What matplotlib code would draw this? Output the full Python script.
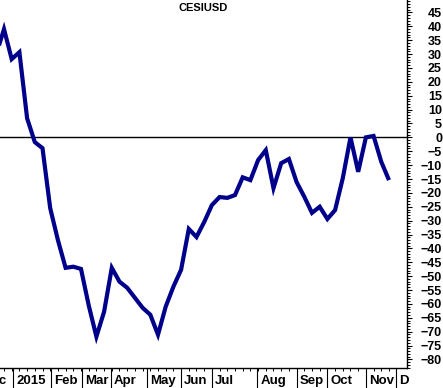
import matplotlib
matplotlib.use("Agg")
import matplotlib.pyplot as plt
from matplotlib.ticker import MultipleLocator, FixedLocator
from matplotlib.transforms import blended_transform_factory, offset_copy

plt.rcParams["font.family"] = ["Liberation Sans", "DejaVu Sans"]

# weekly CESIUSD readings (week index 0 = late Dec 2014)
weeks = list(range(52))
cesi = [30.0, 39.0, 28.2, 30.7, 6.9, -1.7, -3.9, -25.5, -37.0, -47.0,
        -46.6, -47.4, -60.5, -71.8, -62.8, -47.0, -52.0, -54.2, -57.8, -61.4,
        -63.9, -71.1, -61.0, -53.8, -47.7, -33.0, -35.9, -30.5, -24.4, -21.5,
        -21.8, -20.8, -14.4, -15.4, -8.2, -4.6, -18.3, -9.3, -7.8, -16.1,
        -21.4, -27.2, -25.0, -29.4, -26.2, -14.7, 0.0, -12.4, 0.0, 0.5,
        -8.8, -15.4]

month_pos = [-2.2, 2.17, 7.1, 11.1, 14.9, 19.6, 24.0, 28.0, 33.9, 39.05,
             42.95, 48.0, 51.9]
month_lbl = ["Dec", "2015", "Feb", "Mar", "Apr", "May", "Jun", "Jul", "Aug",
             "Sep", "Oct", "Nov", "D"]

y_ticks = list(range(-80, 50, 5))

NAVY = "#00008B"

fig = plt.figure(figsize=(4.43, 3.88), dpi=100)
ax = fig.add_axes([0, 20 / 388, 407 / 443, 368 / 388])

ax.plot(weeks, cesi, color=NAVY, lw=3.0, solid_joinstyle="miter",
        solid_capstyle="butt", zorder=3)
ax.axhline(0, color="black", lw=1.0, zorder=2)

ax.set_xlim(0.48, 53.34)
ax.set_ylim(-83.1, 49.5)

for s in ("left", "top"):
    ax.spines[s].set_visible(False)
for s in ("right", "bottom"):
    ax.spines[s].set_linewidth(1.0)

# y axis on the right
ax.yaxis.tick_right()
ax.yaxis.set_major_locator(FixedLocator(y_ticks))
ax.yaxis.set_minor_locator(MultipleLocator(1))
ax.tick_params(axis="y", which="major", length=3.6, width=0.8, direction="out",
               pad=21.6, labelsize=9)
ax.tick_params(axis="y", which="minor", length=1.9, width=0.7, direction="out")
for lab in ax.get_yticklabels():
    lab.set_horizontalalignment("right")
    lab.set_fontweight("bold")

# x axis: months as long separators, weeks as short ticks
ax.xaxis.set_major_locator(FixedLocator(month_pos))
ax.xaxis.set_minor_locator(FixedLocator(weeks))
ax.set_xticklabels([])
ax.tick_params(axis="x", which="major", length=15, width=0.8, direction="out")
ax.tick_params(axis="x", which="minor", length=2.5, width=0.7, direction="out")

trans = offset_copy(blended_transform_factory(ax.transData, ax.transAxes),
                    fig=fig, x=3, y=-13, units="dots")
for pos, lbl in zip(month_pos, month_lbl):
    ax.text(pos, 0, lbl, transform=trans, ha="left", va="center",
            fontsize=9.5, fontweight="bold", clip_on=False)

fig.text(203 / 443, 1 - 8 / 388, "CESIUSD", ha="center", va="center",
         fontsize=8, fontweight="bold")

fig.savefig("out.png", dpi=100)
